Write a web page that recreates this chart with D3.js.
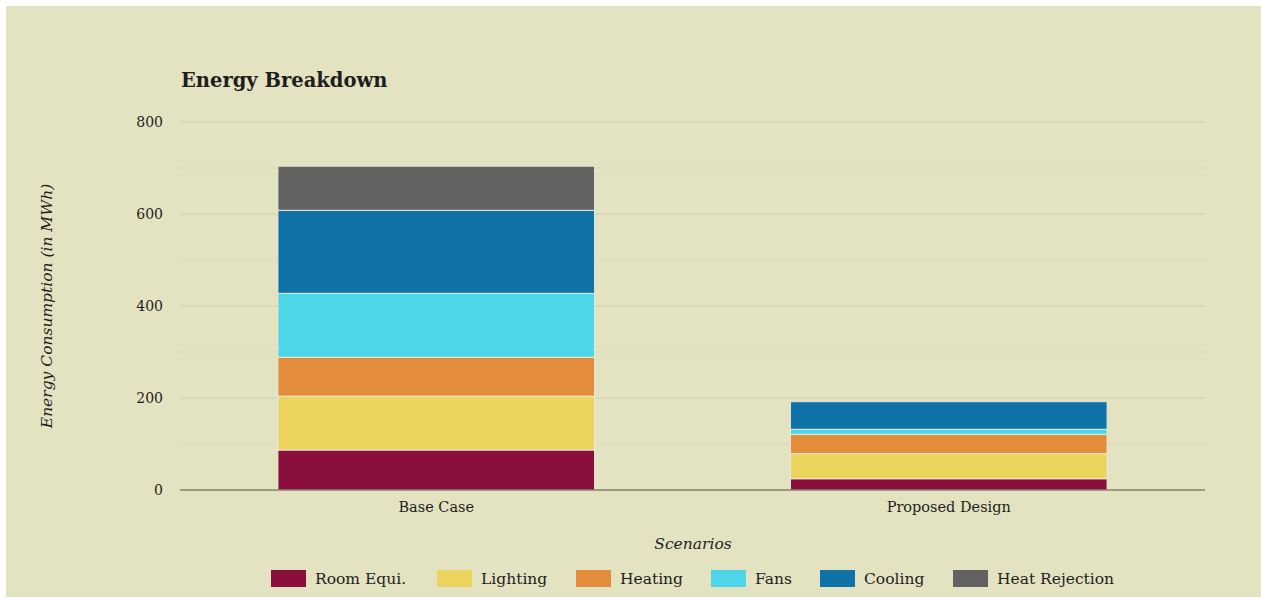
<!DOCTYPE html>
<html>
<head>
<meta charset="utf-8">
<script src="https://cdn.jsdelivr.net/npm/d3@7"></script>
<style>
  html, body { margin: 0; padding: 0; background: #fff; }
  #chart svg { display: block; }
  text { font-family: "DejaVu Serif", serif; fill: #1e1e1e; }
</style>
</head>
<body>
<div id="chart"></div>
<script>
(() => {
const width = 1261, height = 598;

// data (MWh)
const scenarios = ["Base Case", "Proposed Design"];
const categories = ["Room Equi.", "Lighting", "Heating", "Fans", "Cooling", "Heat Rejection"];
const colors = ["#8a0f3c", "#ebd55e", "#e38d3c", "#4dd6e8", "#1073a8", "#626262"];
const baseCase = [87, 117, 84.5, 139, 180.5, 96];
const proposedDesign = [24.5, 54.5, 42, 11, 60, 0];
const yTicks = [0, 200, 400, 600, 800];
const yMinorTicks = [100, 300, 500, 700];

const margin = {left: 180, right: 56, top: 122, bottom: 108};
const serif = "'DejaVu Serif', serif";

const svg = d3.select("#chart").append("svg")
    .attr("width", width).attr("height", height);

// panel background
svg.append("rect")
    .attr("x", 6).attr("y", 6)
    .attr("width", width - 6).attr("height", height - 7)
    .attr("fill", "#e3e3c1");

const x = d3.scaleBand()
    .domain(scenarios)
    .range([margin.left, width - margin.right])
    .paddingInner(0.382)
    .paddingOuter(0.191);

const y = d3.scaleLinear()
    .domain([0, 800])
    .range([height - margin.bottom, margin.top]);

// grid
svg.append("g").selectAll("line")
    .data(yMinorTicks)
    .join("line")
    .attr("x1", margin.left).attr("x2", width - margin.right)
    .attr("y1", d => y(d)).attr("y2", d => y(d))
    .attr("stroke", "#d9d9bd").attr("stroke-width", 1);

svg.append("g").selectAll("line")
    .data(yTicks.filter(d => d > 0))
    .join("line")
    .attr("x1", margin.left).attr("x2", width - margin.right)
    .attr("y1", d => y(d)).attr("y2", d => y(d))
    .attr("stroke", "#cdcdb4").attr("stroke-width", 1);

// y axis labels
const yAxis = d3.axisLeft(y).tickValues(yTicks).tickSize(0).tickPadding(17);
svg.append("g")
    .attr("transform", `translate(${margin.left},0)`)
    .call(yAxis)
    .call(g => g.select(".domain").remove())
    .call(g => g.selectAll("text")
        .style("font-family", serif)
        .style("font-size", "14px").attr("fill", "#1e1e1e"));

// stacked bars
const rows = scenarios.map((s, i) => {
    const vals = i === 0 ? baseCase : proposedDesign;
    const row = {scenario: s};
    categories.forEach((c, j) => row[c] = vals[j]);
    return row;
});
const stack = d3.stack().keys(categories)(rows);
const color = d3.scaleOrdinal().domain(categories).range(colors);

svg.append("g").selectAll("g")
    .data(stack)
    .join("g")
    .attr("fill", d => color(d.key))
    .selectAll("rect")
    .data(d => d.filter(p => p[1] - p[0] > 0))
    .join("rect")
    .attr("x", d => x(d.data.scenario))
    .attr("width", x.bandwidth())
    .attr("y", d => y(d[1]))
    .attr("height", d => y(d[0]) - y(d[1]))
    .attr("stroke", "#e8ecd8")
    .attr("stroke-width", 1);

// x axis
const xAxis = d3.axisBottom(x).tickSize(0).tickPadding(12);
svg.append("g")
    .attr("transform", `translate(0,${y(0)})`)
    .call(xAxis)
    .call(g => g.select(".domain").attr("stroke", "#55553f").attr("stroke-width", 1.2)
        .attr("d", `M${margin.left},0H${width - margin.right}`))
    .call(g => g.selectAll("text")
        .style("font-family", serif)
        .style("font-size", "14.5px").attr("fill", "#1e1e1e"));

// title
svg.append("text")
    .attr("x", 181).attr("y", 87)
    .style("font-size", "19.5px").style("font-weight", "bold")
    .attr("fill", "#111")
    .text("Energy Breakdown");

// axis titles
svg.append("text")
    .attr("transform", `translate(52,${(y(0) + y(800)) / 2}) rotate(-90)`)
    .attr("text-anchor", "middle")
    .style("font-size", "15.5px").style("font-style", "italic")
    .text("Energy Consumption (in MWh)");

svg.append("text")
    .attr("x", 693).attr("y", 549)
    .attr("text-anchor", "middle")
    .style("font-size", "15.5px").style("font-style", "italic")
    .text("Scenarios");

// legend
const legendX = [271, 437, 576, 711, 820, 953];
const legend = svg.append("g").selectAll("g")
    .data(categories)
    .join("g")
    .attr("transform", (d, i) => `translate(${legendX[i]},570)`);

legend.append("rect")
    .attr("width", 35).attr("height", 17)
    .attr("fill", d => color(d));

legend.append("text")
    .attr("x", 44).attr("y", 14)
    .style("font-size", "15.5px")
    .text(d => d);
})();
</script>
</body>
</html>
